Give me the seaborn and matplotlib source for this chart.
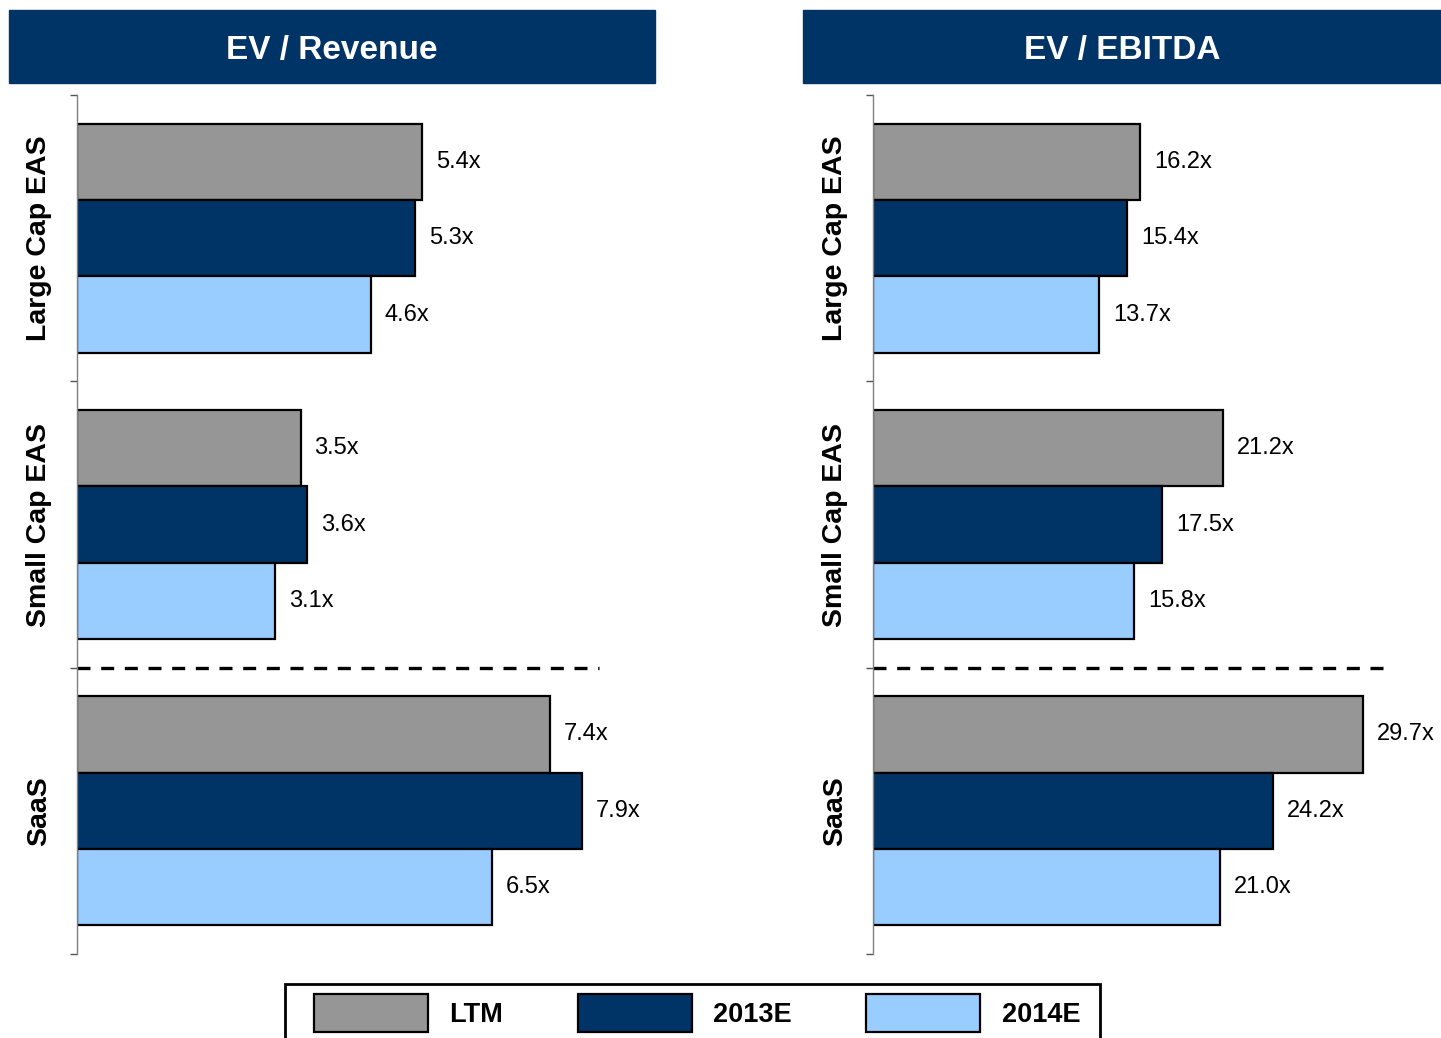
import seaborn as sns
import matplotlib.pyplot as plt
import numpy as np
import pandas as pd
from matplotlib.patches import Rectangle, Patch

# data
groups = ["Large Cap EAS", "Small Cap EAS", "SaaS"]
periods = ["LTM", "2013E", "2014E"]
ev_revenue = [[5.4, 5.3, 4.6], [3.5, 3.6, 3.1], [7.4, 7.9, 6.5]]
ev_ebitda = [[16.2, 15.4, 13.7], [21.2, 17.5, 15.8], [29.7, 24.2, 21.0]]
colors = ["#969696", "#003366", "#99CCFF"]

sns.set_style("white")
plt.rcParams['font.family'] = ['Liberation Sans', 'DejaVu Sans']
plt.rcParams['text.color'] = 'black'
plt.rcParams['ytick.labelcolor'] = 'black'

fig = plt.figure(figsize=(14.41, 10.38), dpi=100)
W, H = 1441, 1038


def long_df(vals):
    rows = []
    for g, row in zip(groups, vals):
        for p, v in zip(periods, row):
            rows.append({"group": g, "period": p, "value": v})
    return pd.DataFrame(rows)


panels = [
    # title, values, axes left/right px, xmax, dash end, header box px
    ("EV / Revenue", ev_revenue, 77, 655, 9.05, 8.18, (9, 655)),
    ("EV / EBITDA", ev_ebitda, 873, 1441, 34.4, 31.45, (803, 1441)),
]

for title, vals, left, right, xmax, dash_end, (hx0, hx1) in panels:
    # header bar
    fig.patches.append(Rectangle((hx0 / W, 1 - 83 / H), (hx1 - hx0) / W, 73 / H,
                                 transform=fig.transFigure, color="#003366", zorder=0))
    fig.text((hx0 + hx1) / 2 / W, 1 - 51 / H, title, color="white", fontsize=24,
             fontweight="bold", ha="center", va="center")

    ax = fig.add_axes([left / W, 1 - 954 / H, (right - left) / W, (954 - 95) / H])
    df = long_df(vals)
    sns.barplot(data=df, y="group", x="value", hue="period", orient="h",
                palette=colors, edgecolor="black", linewidth=1.6, ax=ax,
                legend=False, saturation=1)
    for c in ax.containers:
        ax.bar_label(c, fmt="%.1fx", padding=10, fontsize=17, color="black")

    ax.plot([0, dash_end], [1.5, 1.5], color="black", lw=2.4,
            linestyle=(0, (3.9, 3.2)), clip_on=False)

    ax.set_xlim(0, xmax)
    ax.set_ylim(2.5, -0.5)
    ax.set_xlabel("")
    ax.set_ylabel("")
    ax.set_xticks([])
    ax.set_yticks([0, 1, 2])
    ax.set_yticklabels(groups, rotation=90, va="center", fontsize=20.5, fontweight="bold")
    ax.set_yticks([-0.5, 0.5, 1.5, 2.5], minor=True)
    ax.tick_params(axis="y", which="major", length=0, pad=18)
    ax.tick_params(axis="y", which="minor", length=5, width=1, color="#555555", left=True)
    for s in ["top", "right", "bottom"]:
        ax.spines[s].set_visible(False)
    ax.spines["left"].set_color("#808080")
    ax.spines["left"].set_linewidth(1)

# legend frame drawn by hand (runs off the bottom edge like the original)
fig.patches.append(Rectangle((285 / W, -0.02), (1100 - 285) / W, 0.02 + (1 - 984 / H),
                             transform=fig.transFigure, fill=False, edgecolor="black",
                             linewidth=2, zorder=1))
handles = [Patch(facecolor=c, edgecolor="black", linewidth=1.6) for c in colors]
fig.legend(handles, periods, loc="upper left", bbox_to_anchor=(314 / W, 1 - 994 / H),
           ncol=3, frameon=False, handlelength=4.2, handleheight=1.8,
           handletextpad=0.8, columnspacing=2.75, borderpad=0, borderaxespad=0,
           prop={"size": 19.5, "weight": "bold"})

fig.savefig("out.png", dpi=100, facecolor="white")
